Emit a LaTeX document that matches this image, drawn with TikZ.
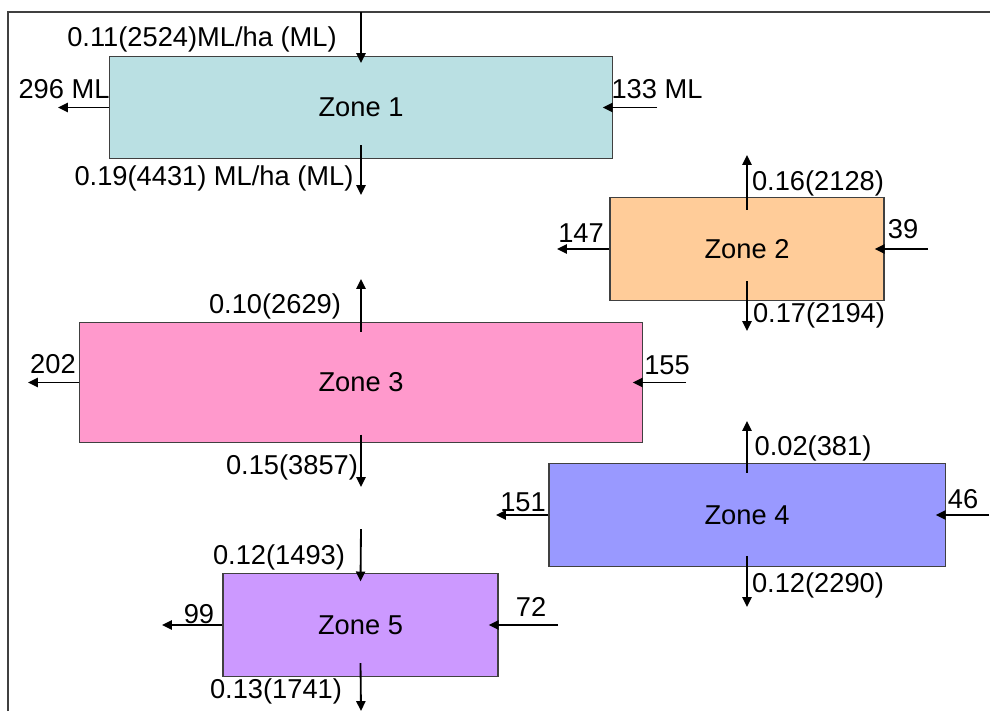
\documentclass[tikz,border=0pt]{standalone}
\usepackage{fontspec}
\setmainfont{Liberation Sans}
\usetikzlibrary{arrows.meta}

\definecolor{zoneA}{RGB}{186,224,227}
\definecolor{zoneB}{RGB}{255,204,153}
\definecolor{zoneC}{RGB}{255,153,204}
\definecolor{zoneD}{RGB}{153,153,255}
\definecolor{zoneE}{RGB}{204,153,255}

\begin{document}
\begin{tikzpicture}[x=0.025cm, y=-0.025cm,
  every node/.style={font=\fontsize{19.4pt}{22pt}\selectfont, inner sep=0pt},
  zone/.style={draw=black!75, line width=0.8pt, rectangle},
  flow/.style={line width=1.3pt, -{Triangle[length=7pt, width=6.5pt]}},
  frame/.style={draw=black!75, line width=0.8pt}]

\useasboundingbox (0,0) rectangle (990,711);

% Frame
\draw[frame] (8,711) -- (8,12) -- (990,12);

% Zone 1
\node[zone, fill=zoneA, minimum width=12.55cm, minimum height=2.55cm] (z1) at (361,107.5) {Zone 1};
\coordinate (z1top) at (361,12);
\coordinate (z1bot) at (361,195);
\coordinate (z1w) at (58,108);
\coordinate (z1e) at (657,108);
\draw[flow] (z1top) -- ([yshift=-5pt]z1.north);
\draw[flow] ([yshift=10pt]z1.south) -- (z1bot);
\draw[flow] (z1.west) -- (z1.west -| z1w);
\draw[flow] (z1.east -| z1e) -- ([xshift=-7pt]z1.east);
\node (l1t) at (202,39) {0.11(2524)ML/ha (ML)};
\node (l1b) at (214,178) {0.19(4431) ML/ha (ML)};
\node (l1l) at (64,89) {296 ML};
\node (l1r) at (657,89) {133 ML};

% Zone 2
\node[zone, fill=zoneB, minimum width=6.85cm, minimum height=2.575cm] (z2) at (747,249) {Zone 2};
\coordinate (z2top) at (747,155);
\coordinate (z2bot) at (747,331);
\coordinate (z2w) at (557,250);
\coordinate (z2e) at (928,250);
\draw[flow] ([yshift=-9pt]z2.north) -- (z2top);
\draw[flow] ([yshift=14pt]z2.south) -- (z2bot);
\draw[flow] (z2.west) -- (z2.west -| z2w);
\draw[flow] (z2.east -| z2e) -- ([xshift=-7pt]z2.east);
\node (l2t) at (818,183) {0.16(2128)};
\node (l2b) at (819,315) {0.17(2194)};
\node (l2l) at (581,233) {147};
\node (l2r) at (903,229) {39};

% Zone 3
\node[zone, fill=zoneC, minimum width=14.05cm, minimum height=3cm] (z3) at (361,382.5) {Zone 3};
\coordinate (z3top) at (361,279);
\coordinate (z3bot) at (361,487);
\coordinate (z3w) at (28,383);
\coordinate (z3e) at (686,383);
\draw[flow] ([yshift=-7pt]z3.north) -- (z3top);
\draw[flow] ([yshift=6pt]z3.south) -- (z3bot);
\draw[flow] (z3.west) -- (z3.west -| z3w);
\draw[flow] (z3.east -| z3e) -- ([xshift=-7pt]z3.east);
\node (l3t) at (275,306) {0.10(2629)};
\node (l3b) at (292,467) {0.15(3857)};
\node (l3l) at (53,364) {202};
\node (l3r) at (667,365) {155};

% Zone 4
\node[zone, fill=zoneD, minimum width=9.9cm, minimum height=2.575cm] (z4) at (747,515) {Zone 4};
\coordinate (z4top) at (747,421);
\coordinate (z4bot) at (747,607);
\coordinate (z4w) at (496,517);
\coordinate (z4e) at (989,517);
\draw[flow] ([yshift=-7pt]z4.north) -- (z4top);
\draw[flow] ([yshift=8pt]z4.south) -- (z4bot);
\draw[flow] (z4.west) -- (z4.west -| z4w);
\draw[flow] (z4.east -| z4e) -- ([xshift=-7pt]z4.east);
\node (l4t) at (813,448) {0.02(381)};
\node (l4b) at (818,585) {0.12(2290)};
\node (l4l) at (523,502) {151};
\node (l4r) at (963,499) {46};

% Zone 5
\node[zone, fill=zoneE, minimum width=6.875cm, minimum height=2.575cm] (z5) at (360.5,625) {Zone 5};
\coordinate (z5top) at (361,529);
\coordinate (z5bot) at (361,711);
\coordinate (z5w) at (162,626);
\coordinate (z5e) at (558,626);
\draw[flow] (z5top) -- ([yshift=-6pt]z5.north);
\draw[flow] ([yshift=10pt]z5.south) -- (z5bot);
\draw[flow] (z5.west) -- (z5.west -| z5w);
\draw[flow] (z5.east -| z5e) -- ([xshift=-7pt]z5.east);
\node (l5t) at (279,557) {0.12(1493)};
\node (l5b) at (276,691) {0.13(1741)};
\node (l5l) at (199,614) {99};
\node (l5r) at (531,607) {72};

\end{tikzpicture}
\end{document}
